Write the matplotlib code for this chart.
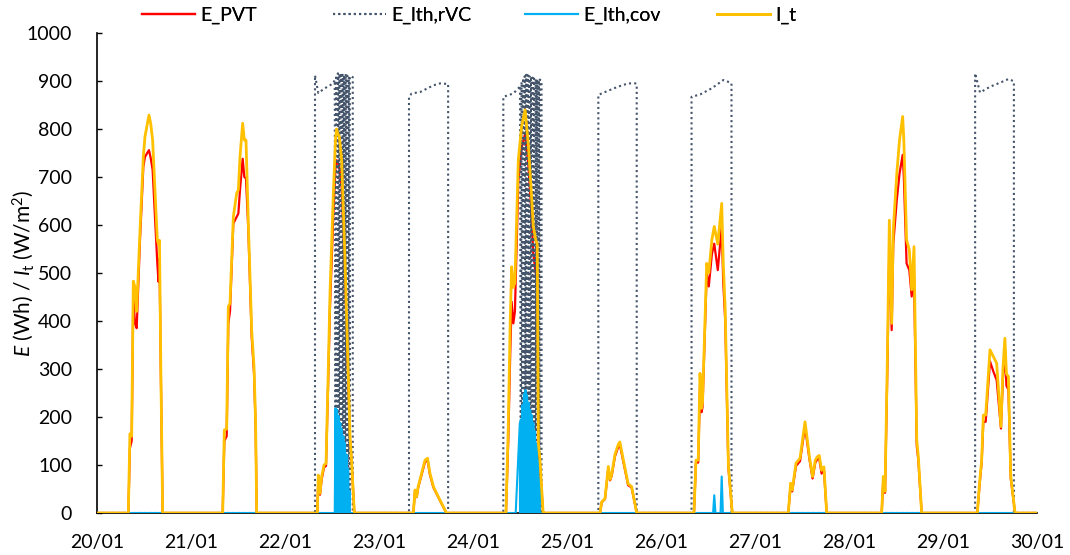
import numpy as np
import matplotlib
matplotlib.use("Agg")
import matplotlib.pyplot as plt

plt.rcParams['font.family'] = ['Lato', 'DejaVu Sans']
plt.rcParams['mathtext.fontset'] = 'custom'
plt.rcParams['mathtext.rm'] = 'Lato'
plt.rcParams['mathtext.it'] = 'Lato:italic'

tick_days = list(range(20, 31))
tick_labels = ['20/01', '21/01', '22/01', '23/01', '24/01', '25/01',
               '26/01', '27/01', '28/01', '29/01', '30/01']

# I_t and E_PVT per day: hour of day, I_t (W/m2), E_PVT (Wh)
h20 = [8.0, 8.4, 8.85, 9.27, 9.7, 10.13, 10.98, 11.83, 12.25, 13.27, 13.7, 14.2, 14.8, 15.4, 15.7, 15.95, 16.3, 16.76]
it20 = [0, 165, 160, 483, 470, 420, 589, 742, 784, 829, 812, 777, 673, 569, 560, 568, 300, 0]
pvt20 = [0, 135, 150, 450, 395, 385, 569, 721, 742, 756, 740, 715, 617, 520, 482, 530, 290, 0]

h21 = [8.09, 8.51, 9.11, 9.53, 9.96, 10.81, 11.66, 12.09, 12.51, 13.19, 13.62, 14.04, 14.64, 15.49, 16.09, 16.5, 16.77]
it21 = [0, 173, 175, 430, 437, 617, 666, 673, 742, 812, 777, 777, 603, 381, 305, 187, 0]
pvt21 = [0, 150, 160, 395, 420, 603, 617, 624, 673, 738, 700, 697, 589, 367, 291, 180, 0]

h22 = [8.26, 8.5, 8.94, 9.36, 9.96, 10.47, 11.0, 11.49, 12.34, 12.9, 13.19, 13.5, 13.87, 14.47, 15.32, 16.17, 16.6, 17.0, 17.7]
it22 = [0, 79, 41, 76, 100, 103, 280, 458, 665, 780, 800, 790, 784, 735, 527, 284, 160, 110, 0]
pvt22 = [0, 70, 38, 70, 95, 98, 265, 430, 620, 720, 735, 730, 720, 680, 490, 265, 150, 110, 0]

h23 = [8.77, 9.19, 9.62, 10.0, 10.9, 11.74, 12.4, 13.0, 13.9, 14.7, 16.0, 17.2]
it23 = [0, 48, 34, 55, 83, 110, 114, 83, 55, 41, 20, 0]
pvt23 = [0, 46, 33, 53, 80, 106, 110, 80, 53, 40, 19, 0]

h24 = [8.42, 9.0, 9.5, 9.87, 10.3, 10.7, 11.57, 12.4, 13.3, 14.1, 14.8, 15.4, 16.0, 16.4, 16.7, 17.1, 17.9]
it24 = [0, 180, 400, 513, 470, 480, 736, 805, 840, 770, 680, 597, 570, 560, 145, 110, 0]
pvt24 = [0, 150, 330, 440, 395, 420, 690, 760, 790, 730, 640, 540, 500, 490, 131, 100, 0]

h25 = [8.42, 8.85, 9.7, 10.55, 11.0, 11.4, 12.25, 13.1, 13.5, 14.4, 15.6, 16.5, 17.8]
it25 = [0, 23, 30, 97, 70, 80, 122, 143, 148, 110, 61, 55, 0]
pvt25 = [0, 22, 29, 93, 68, 77, 118, 138, 142, 106, 58, 53, 0]

h26 = [8.42, 8.93, 9.5, 9.96, 10.35, 10.6, 11.67, 12.2, 13.0, 13.6, 14.5, 15.5, 15.9, 16.4, 17.2, 18.2]
it26 = [0, 110, 110, 291, 218, 230, 520, 500, 570, 597, 560, 645, 520, 423, 100, 0]
pvt26 = [0, 105, 105, 260, 210, 220, 500, 472, 540, 561, 506, 597, 480, 400, 95, 0]

h27 = [8.5, 9.1, 9.5, 10.47, 11.5, 12.77, 13.9, 14.7, 15.4, 15.9, 16.4, 17.0, 17.6, 18.3]
it27 = [0, 62, 48, 104, 114, 190, 117, 76, 110, 117, 120, 89, 96, 0]
pvt27 = [0, 58, 45, 98, 108, 180, 112, 72, 105, 112, 113, 82, 90, 0]

h28 = [8.34, 8.76, 9.2, 9.8, 10.3, 10.9, 11.3, 12.2, 12.9, 13.7, 14.0, 14.7, 15.4, 16.0, 16.6, 17.3, 17.7, 18.55]
it28 = [0, 76, 45, 326, 610, 395, 589, 707, 777, 826, 777, 569, 548, 465, 555, 152, 117, 0]
pvt28 = [0, 70, 42, 300, 560, 381, 560, 652, 707, 746, 700, 520, 506, 451, 492, 140, 110, 0]

h29 = [8.77, 9.3, 9.87, 10.3, 10.9, 12.0, 12.85, 13.7, 14.8, 15.3, 15.8, 16.2, 16.7, 17.3, 18.4]
it29 = [0, 60, 110, 204, 204, 340, 326, 312, 180, 300, 364, 290, 284, 76, 0]
pvt29 = [0, 55, 105, 190, 190, 316, 295, 277, 176, 280, 333, 265, 257, 72, 0]

# E_lth,rVC outline per day (hour, Wh)
rvc22_h = [7.66, 7.66, 8.5, 10.0, 12.3, 12.7, 16.55, 16.9, 17.3, 17.3]
rvc22_v = [0, 912, 875, 884, 895, 900, 910, 909, 908, 0]
rvc23_h = [7.66, 7.66, 8.34, 10.5, 12.2, 13.9, 15.6, 17.3, 17.65, 17.65]
rvc23_v = [0, 867, 874, 877, 884, 891, 895, 894, 894, 0]
rvc24_h = [7.74, 7.74, 10.3, 11.95, 17.05, 17.2, 17.5, 17.5]
rvc24_v = [0, 867, 874, 888, 903, 902, 900, 0]
rvc25_h = [8.0, 8.0, 10.0, 13.0, 15.6, 17.5, 17.8, 17.8]
rvc25_v = [0, 871, 878, 888, 895, 895, 893, 0]
rvc26_h = [7.8, 7.8, 10.0, 13.0, 15.9, 17.6, 18.0, 18.0]
rvc26_v = [0, 867, 872, 885, 902, 897, 895, 0]
rvc29_h = [8.2, 8.2, 9.45, 12.0, 15.0, 16.7, 17.95, 18.1, 18.1]
rvc29_v = [0, 916, 876, 888, 898, 904, 900, 898, 0]

# on/off switching periods (rVC peaks and cov peaks alternate)
osc22_h = (12.7, 16.5)
rvc22_peaks = [902, 912, 916, 915, 917, 913, 912, 915, 911, 909]
cov22_peaks = [218, 215, 202, 188, 175, 160, 146, 122, 92, 45]
osc24_h = (12.0, 17.0)
rvc24_peaks = [890, 898, 906, 910, 913, 912, 910, 909, 907, 905, 904, 903, 902]
cov24_peaks = [195, 225, 248, 256, 245, 230, 215, 204, 188, 170, 145, 110, 70]

# E_lth,cov outside the switching periods
cov22_h = [16.55]
cov22_v = [0]
cov24_h = [10.9, 11.95, 17.05]
cov24_v = [0, 187, 0]
cov26_h = [13.3, 13.6, 13.9, 15.2, 15.5, 15.8]
cov26_v = [0, 37, 0, 0, 76, 0]


def stitch(segments):
    t, v = [20.0], [0.0]
    for day, hours, vals in segments:
        t += [day + h / 24.0 for h in hours]
        v += list(vals)
    t.append(30.0)
    v.append(0.0)
    return np.array(t), np.array(v)


def with_osc(hours, vals, window, peaks, peak_first):
    ts = np.linspace(window[0], window[1], 2 * len(peaks))
    ov = []
    for p in peaks:
        ov += [p, 0] if peak_first else [0, p]
    before = [(h, x) for h, x in zip(hours, vals) if h < window[0]]
    after = [(h, x) for h, x in zip(hours, vals) if h > window[1]]
    hh = [h for h, _ in before] + list(ts) + [h for h, _ in after]
    vv = [x for _, x in before] + ov + [x for _, x in after]
    return hh, vv


days = [20, 21, 22, 23, 24, 25, 26, 27, 28, 29]
all_h = [h20, h21, h22, h23, h24, h25, h26, h27, h28, h29]
all_it = [it20, it21, it22, it23, it24, it25, it26, it27, it28, it29]
all_pvt = [pvt20, pvt21, pvt22, pvt23, pvt24, pvt25, pvt26, pvt27, pvt28, pvt29]

t_it, v_it = stitch(zip(days, all_h, all_it))
t_pvt, v_pvt = stitch(zip(days, all_h, all_pvt))

r22 = with_osc(rvc22_h, rvc22_v, osc22_h, rvc22_peaks, True)
r24 = with_osc(rvc24_h, rvc24_v, osc24_h, rvc24_peaks, True)
t_rvc, v_rvc = stitch([(22, r22[0], r22[1]), (23, rvc23_h, rvc23_v), (24, r24[0], r24[1]),
                       (25, rvc25_h, rvc25_v), (26, rvc26_h, rvc26_v), (29, rvc29_h, rvc29_v)])

c22 = with_osc(cov22_h, cov22_v, osc22_h, cov22_peaks, False)
c24 = with_osc(cov24_h, cov24_v, osc24_h, cov24_peaks, False)
t_cov, v_cov = stitch([(22, c22[0], c22[1]), (24, c24[0], c24[1]), (26, cov26_h, cov26_v)])

fig = plt.figure(figsize=(10.7, 5.55), dpi=100)
ax = fig.add_axes([97 / 1070, 42 / 555, 940 / 1070, 480 / 555])

l_pvt, = ax.plot(t_pvt, v_pvt, color='#FF0000', lw=1.6, zorder=2, label='E_PVT')
l_rvc, = ax.plot(t_rvc, v_rvc, color='#44546A', lw=1.5, ls=(0, (1, 1.5)), zorder=3, label='E_lth,rVC')
l_cov, = ax.plot(t_cov, v_cov, color='#00B0F0', lw=1.5, zorder=4, label='E_lth,cov')
l_it, = ax.plot(t_it, v_it, color='#FFC000', lw=2.0, zorder=5, label='I_t')

ax.set_xlim(20, 30)
ax.set_ylim(0, 1000)
ax.set_xticks(tick_days)
ax.set_xticklabels(tick_labels)
ax.set_yticks(np.arange(0, 1001, 100))
ax.tick_params(axis='x', length=0, pad=15, labelsize=14)
ax.tick_params(axis='y', direction='in', length=3.5, width=1, pad=18, labelsize=14)

for s in ['top', 'right']:
    ax.spines[s].set_visible(False)
for s in ['left', 'bottom']:
    ax.spines[s].set_linewidth(1.2)
ax.spines['bottom'].set_zorder(1)

fig.text(23 / 1070, 1 - 273 / 555, r'$E$ (Wh) / $I_\mathrm{t}$ (W/m$^2$)',
         rotation=90, ha='center', va='center', fontsize=15)

# one legend per entry so the entries sit at equal spacing
leg_x = [142, 333, 525, 717]
for handle, x in zip([l_pvt, l_rvc, l_cov, l_it], leg_x):
    fig.add_artist(fig.legend(handles=[handle], loc='center left',
                              bbox_to_anchor=(x / 1070, 1 - 15 / 555),
                              frameon=False, fontsize=14, borderpad=0,
                              borderaxespad=0, handlelength=2.7, handletextpad=0.3))

fig.savefig('out.png', dpi=100)
